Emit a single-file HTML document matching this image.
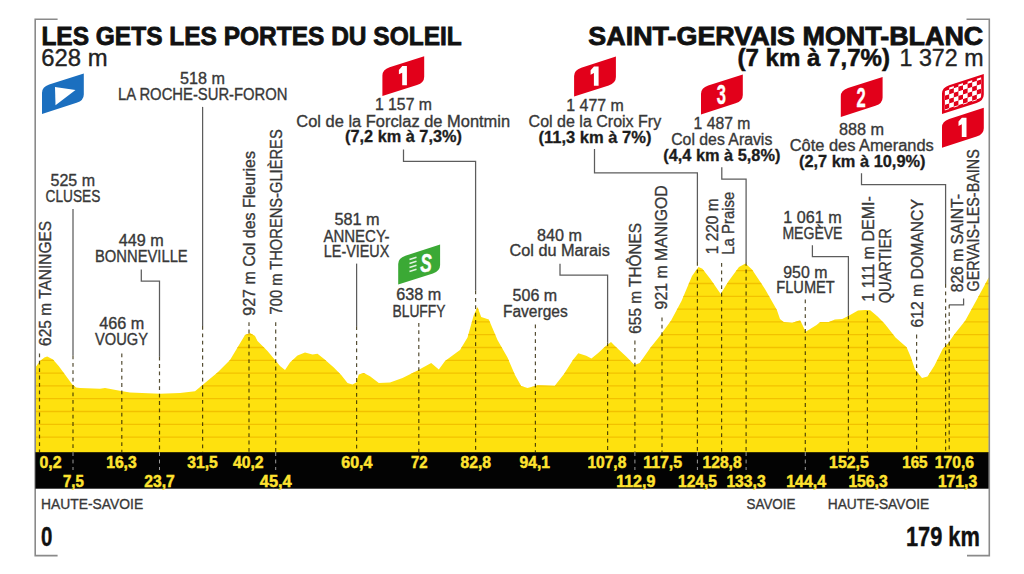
<!DOCTYPE html><html><head><meta charset="utf-8"><style>html,body{margin:0;padding:0;background:#fff;width:1024px;height:574px;overflow:hidden}svg{display:block}text{font-family:"Liberation Sans",sans-serif}</style></head><body>
<svg width="1024" height="574" viewBox="0 0 1024 574">
<defs><clipPath id="pc"><polygon points="35.7,367.0 40.0,361.0 44.4,357.5 47.2,356.5 53.0,359.4 58.7,366.0 66.4,376.6 72.1,384.3 76.0,387.6 80.0,388.1 100.0,388.8 105.0,388.0 122.5,391.2 130.0,392.5 160.0,393.8 180.0,393.0 195.0,391.2 202.5,385.0 217.5,372.5 230.0,360.0 245.0,335.0 250.0,333.0 255.0,336.0 257.5,341.0 267.5,351.0 280.0,366.0 285.0,370.0 290.0,362.5 297.5,355.5 305.0,352.5 312.5,354.5 317.5,353.8 323.8,358.8 333.8,367.5 341.2,375.0 347.5,383.0 352.5,384.5 356.2,382.5 358.8,374.5 363.8,373.0 370.0,376.2 378.8,383.0 390.0,382.5 402.5,378.0 417.5,370.5 431.2,363.0 438.8,369.5 445.0,361.0 460.0,350.0 467.5,337.5 473.8,315.0 477.5,307.0 481.2,317.0 488.8,319.5 497.5,340.0 507.5,357.5 515.0,375.0 521.2,386.0 527.5,388.0 537.8,385.3 554.8,385.8 564.0,374.0 573.1,359.7 578.3,353.2 586.2,355.8 591.4,358.4 597.9,353.2 605.8,346.1 611.0,342.0 616.2,347.2 626.7,357.1 634.5,365.0 639.7,362.9 650.2,348.0 660.6,334.9 671.1,320.5 681.5,301.0 692.0,276.1 698.5,267.0 702.4,268.8 710.2,278.7 720.7,294.0 728.5,281.3 739.0,267.0 745.5,263.5 752.0,269.6 765.1,289.2 776.9,310.1 780.0,319.0 783.7,322.0 792.2,322.7 800.1,320.2 802.0,323.9 805.6,331.8 809.3,329.4 816.6,325.1 820.2,322.1 828.8,322.1 834.9,319.6 842.2,319.0 848.3,316.0 858.0,310.5 865.4,309.9 870.2,310.2 877.6,316.6 884.9,323.9 895.5,337.6 906.6,347.3 910.8,357.1 915.0,369.6 922.0,378.0 927.5,376.6 934.5,365.5 942.8,348.7 948.4,343.1 954.0,334.8 965.2,320.8 976.3,300.5 984.7,285.0 988.8,277.3 988.8,453 35.7,453"/></clipPath></defs>
<polygon points="35.7,367.0 40.0,361.0 44.4,357.5 47.2,356.5 53.0,359.4 58.7,366.0 66.4,376.6 72.1,384.3 76.0,387.6 80.0,388.1 100.0,388.8 105.0,388.0 122.5,391.2 130.0,392.5 160.0,393.8 180.0,393.0 195.0,391.2 202.5,385.0 217.5,372.5 230.0,360.0 245.0,335.0 250.0,333.0 255.0,336.0 257.5,341.0 267.5,351.0 280.0,366.0 285.0,370.0 290.0,362.5 297.5,355.5 305.0,352.5 312.5,354.5 317.5,353.8 323.8,358.8 333.8,367.5 341.2,375.0 347.5,383.0 352.5,384.5 356.2,382.5 358.8,374.5 363.8,373.0 370.0,376.2 378.8,383.0 390.0,382.5 402.5,378.0 417.5,370.5 431.2,363.0 438.8,369.5 445.0,361.0 460.0,350.0 467.5,337.5 473.8,315.0 477.5,307.0 481.2,317.0 488.8,319.5 497.5,340.0 507.5,357.5 515.0,375.0 521.2,386.0 527.5,388.0 537.8,385.3 554.8,385.8 564.0,374.0 573.1,359.7 578.3,353.2 586.2,355.8 591.4,358.4 597.9,353.2 605.8,346.1 611.0,342.0 616.2,347.2 626.7,357.1 634.5,365.0 639.7,362.9 650.2,348.0 660.6,334.9 671.1,320.5 681.5,301.0 692.0,276.1 698.5,267.0 702.4,268.8 710.2,278.7 720.7,294.0 728.5,281.3 739.0,267.0 745.5,263.5 752.0,269.6 765.1,289.2 776.9,310.1 780.0,319.0 783.7,322.0 792.2,322.7 800.1,320.2 802.0,323.9 805.6,331.8 809.3,329.4 816.6,325.1 820.2,322.1 828.8,322.1 834.9,319.6 842.2,319.0 848.3,316.0 858.0,310.5 865.4,309.9 870.2,310.2 877.6,316.6 884.9,323.9 895.5,337.6 906.6,347.3 910.8,357.1 915.0,369.6 922.0,378.0 927.5,376.6 934.5,365.5 942.8,348.7 948.4,343.1 954.0,334.8 965.2,320.8 976.3,300.5 984.7,285.0 988.8,277.3 988.8,453 35.7,453" fill="#FEE10E"/>
<g clip-path="url(#pc)" stroke="#F2C100" stroke-width="1.3">
<line x1="30" x2="995" y1="437.10" y2="437.10"/>
<line x1="30" x2="995" y1="424.30" y2="424.30"/>
<line x1="30" x2="995" y1="411.50" y2="411.50"/>
<line x1="30" x2="995" y1="398.70" y2="398.70"/>
<line x1="30" x2="995" y1="385.90" y2="385.90"/>
<line x1="30" x2="995" y1="373.10" y2="373.10"/>
<line x1="30" x2="995" y1="360.30" y2="360.30"/>
<line x1="30" x2="995" y1="347.50" y2="347.50"/>
<line x1="30" x2="995" y1="334.70" y2="334.70"/>
<line x1="30" x2="995" y1="321.90" y2="321.90"/>
<line x1="30" x2="995" y1="309.10" y2="309.10"/>
<line x1="30" x2="995" y1="296.30" y2="296.30"/>
<line x1="30" x2="995" y1="283.50" y2="283.50"/>
<line x1="30" x2="995" y1="270.70" y2="270.70"/>
<line x1="30" x2="995" y1="257.90" y2="257.90"/>
</g>
<path d="M57.6,19.3 H35.2 V555.6 H57.6" fill="none" stroke="#8a8a8a" stroke-width="1.6"/>
<path d="M966.5,19.3 H989.3 V555.6 H967" fill="none" stroke="#8a8a8a" stroke-width="1.6"/>
<rect x="35.4" y="452.2" width="953.2" height="36.5" fill="#030303"/>
<line x1="39.5" x2="39.5" y1="353.4" y2="452.2" stroke="#2a2200" stroke-opacity="0.8" stroke-width="1.2" stroke-dasharray="3.8 3.6"/>
<path d="M73,209 V355.5" fill="none" stroke="#5c5c5c" stroke-width="1.25"/>
<line x1="73.0" x2="73.0" y1="355.5" y2="452.2" stroke="#2a2200" stroke-opacity="0.8" stroke-width="1.2" stroke-dasharray="3.8 3.6"/>
<line x1="73.0" x2="73.0" y1="452.2" y2="470.0" stroke="#9a9a9a" stroke-width="1" stroke-dasharray="3.8 3.6"/>
<line x1="121.8" x2="121.8" y1="353.5" y2="452.2" stroke="#2a2200" stroke-opacity="0.8" stroke-width="1.2" stroke-dasharray="3.8 3.6"/>
<path d="M141.3,269.6 V281.1 H159.5 V356.7" fill="none" stroke="#5c5c5c" stroke-width="1.25"/>
<line x1="159.5" x2="159.5" y1="356.7" y2="452.2" stroke="#2a2200" stroke-opacity="0.8" stroke-width="1.2" stroke-dasharray="3.8 3.6"/>
<line x1="159.5" x2="159.5" y1="452.2" y2="470.0" stroke="#9a9a9a" stroke-width="1" stroke-dasharray="3.8 3.6"/>
<path d="M202.6,106.9 V326" fill="none" stroke="#5c5c5c" stroke-width="1.25"/>
<line x1="202.6" x2="202.6" y1="326.0" y2="452.2" stroke="#2a2200" stroke-opacity="0.8" stroke-width="1.2" stroke-dasharray="3.8 3.6"/>
<line x1="249.0" x2="249.0" y1="322.2" y2="452.2" stroke="#2a2200" stroke-opacity="0.8" stroke-width="1.2" stroke-dasharray="3.8 3.6"/>
<line x1="275.7" x2="275.7" y1="322.2" y2="452.2" stroke="#2a2200" stroke-opacity="0.8" stroke-width="1.2" stroke-dasharray="3.8 3.6"/>
<line x1="275.7" x2="275.7" y1="452.2" y2="470.0" stroke="#9a9a9a" stroke-width="1" stroke-dasharray="3.8 3.6"/>
<path d="M356.6,263.6 V326.3" fill="none" stroke="#5c5c5c" stroke-width="1.25"/>
<line x1="356.6" x2="356.6" y1="326.3" y2="452.2" stroke="#2a2200" stroke-opacity="0.8" stroke-width="1.2" stroke-dasharray="3.8 3.6"/>
<line x1="418.8" x2="418.8" y1="322.9" y2="452.2" stroke="#2a2200" stroke-opacity="0.8" stroke-width="1.2" stroke-dasharray="3.8 3.6"/>
<path d="M403.5,149.4 V161.3 H475.6 V290.5" fill="none" stroke="#5c5c5c" stroke-width="1.25"/>
<line x1="475.6" x2="475.6" y1="290.5" y2="452.2" stroke="#2a2200" stroke-opacity="0.8" stroke-width="1.2" stroke-dasharray="3.8 3.6"/>
<line x1="535.4" x2="535.4" y1="324.5" y2="452.2" stroke="#2a2200" stroke-opacity="0.8" stroke-width="1.2" stroke-dasharray="3.8 3.6"/>
<path d="M560,263.7 V275.2 H607.6 V342.5" fill="none" stroke="#5c5c5c" stroke-width="1.25"/>
<line x1="607.6" x2="607.6" y1="342.5" y2="452.2" stroke="#2a2200" stroke-opacity="0.8" stroke-width="1.2" stroke-dasharray="3.8 3.6"/>
<line x1="634.9" x2="634.9" y1="340.6" y2="452.2" stroke="#2a2200" stroke-opacity="0.8" stroke-width="1.2" stroke-dasharray="3.8 3.6"/>
<line x1="634.9" x2="634.9" y1="452.2" y2="470.0" stroke="#9a9a9a" stroke-width="1" stroke-dasharray="3.8 3.6"/>
<line x1="662.0" x2="662.0" y1="317.4" y2="452.2" stroke="#2a2200" stroke-opacity="0.8" stroke-width="1.2" stroke-dasharray="3.8 3.6"/>
<path d="M594.5,149.1 V172.8 H697.4 V262" fill="none" stroke="#5c5c5c" stroke-width="1.25"/>
<line x1="697.4" x2="697.4" y1="262.0" y2="452.2" stroke="#2a2200" stroke-opacity="0.8" stroke-width="1.2" stroke-dasharray="3.8 3.6"/>
<line x1="697.4" x2="697.4" y1="452.2" y2="470.0" stroke="#9a9a9a" stroke-width="1" stroke-dasharray="3.8 3.6"/>
<line x1="721.6" x2="721.6" y1="263.0" y2="452.2" stroke="#2a2200" stroke-opacity="0.8" stroke-width="1.2" stroke-dasharray="3.8 3.6"/>
<path d="M721.8,167.2 V179 H746.1 V262" fill="none" stroke="#5c5c5c" stroke-width="1.25"/>
<line x1="746.1" x2="746.1" y1="262.0" y2="452.2" stroke="#2a2200" stroke-opacity="0.8" stroke-width="1.2" stroke-dasharray="3.8 3.6"/>
<line x1="746.1" x2="746.1" y1="452.2" y2="470.0" stroke="#9a9a9a" stroke-width="1" stroke-dasharray="3.8 3.6"/>
<line x1="805.3" x2="805.3" y1="299.5" y2="452.2" stroke="#2a2200" stroke-opacity="0.8" stroke-width="1.2" stroke-dasharray="3.8 3.6"/>
<line x1="805.3" x2="805.3" y1="452.2" y2="470.0" stroke="#9a9a9a" stroke-width="1" stroke-dasharray="3.8 3.6"/>
<path d="M812.4,245.3 V256.6 H848.4 V315.4" fill="none" stroke="#5c5c5c" stroke-width="1.25"/>
<line x1="848.4" x2="848.4" y1="315.4" y2="452.2" stroke="#2a2200" stroke-opacity="0.8" stroke-width="1.2" stroke-dasharray="3.8 3.6"/>
<line x1="867.4" x2="867.4" y1="311.0" y2="452.2" stroke="#2a2200" stroke-opacity="0.8" stroke-width="1.2" stroke-dasharray="3.8 3.6"/>
<line x1="916.6" x2="916.6" y1="334.6" y2="452.2" stroke="#2a2200" stroke-opacity="0.8" stroke-width="1.2" stroke-dasharray="3.8 3.6"/>
<path d="M861.5,173.3 V184.7 H945.6 V284" fill="none" stroke="#5c5c5c" stroke-width="1.25"/>
<line x1="945.6" x2="945.6" y1="284.0" y2="452.2" stroke="#2a2200" stroke-opacity="0.8" stroke-width="1.2" stroke-dasharray="3.8 3.6"/>
<path d="M963.6,298.6 V304.8 H949.2" fill="none" stroke="#5c5c5c" stroke-width="1.25"/>
<line x1="949.2" x2="949.2" y1="304.8" y2="452.2" stroke="#2a2200" stroke-opacity="0.8" stroke-width="1.2" stroke-dasharray="3.8 3.6"/>
<text x="41.4" y="44.7" font-size="25.5" font-weight="bold" fill="#111" stroke="#111" stroke-width="0.80" textLength="420.4" lengthAdjust="spacingAndGlyphs">LES GETS LES PORTES DU SOLEIL</text>
<text x="41.3" y="65.7" font-size="23" font-weight="normal" fill="#222" stroke="#222" stroke-width="0.35" textLength="66.3" lengthAdjust="spacingAndGlyphs">628 m</text>
<text x="588.3" y="44.6" font-size="25.5" font-weight="bold" fill="#111" stroke="#111" stroke-width="0.80" textLength="395.0" lengthAdjust="spacingAndGlyphs">SAINT-GERVAIS MONT-BLANC</text>
<text x="737.5" y="65.7" font-size="23" font-weight="bold" fill="#111" stroke="#111" stroke-width="0.50" textLength="152.5" lengthAdjust="spacingAndGlyphs">(7 km à 7,7%)</text>
<text x="899.5" y="65.7" font-size="23" font-weight="normal" fill="#222" stroke="#222" stroke-width="0.35" textLength="84.0" lengthAdjust="spacingAndGlyphs">1 372 m</text>
<text x="180.1" y="84.4" font-size="16" font-weight="normal" fill="#383838" stroke="#383838" stroke-width="0.35" textLength="44.9" lengthAdjust="spacingAndGlyphs">518 m</text>
<text x="118.0" y="100.0" font-size="16" font-weight="normal" fill="#383838" stroke="#383838" stroke-width="0.35" textLength="169.5" lengthAdjust="spacingAndGlyphs">LA ROCHE-SUR-FORON</text>
<text x="50.5" y="185.5" font-size="16" font-weight="normal" fill="#383838" stroke="#383838" stroke-width="0.35" textLength="44.5" lengthAdjust="spacingAndGlyphs">525 m</text>
<text x="45.6" y="201.6" font-size="16" font-weight="normal" fill="#383838" stroke="#383838" stroke-width="0.35" textLength="54.8" lengthAdjust="spacingAndGlyphs">CLUSES</text>
<text x="118.7" y="245.9" font-size="16" font-weight="normal" fill="#383838" stroke="#383838" stroke-width="0.35" textLength="44.9" lengthAdjust="spacingAndGlyphs">449 m</text>
<text x="95.0" y="261.6" font-size="16" font-weight="normal" fill="#383838" stroke="#383838" stroke-width="0.35" textLength="92.7" lengthAdjust="spacingAndGlyphs">BONNEVILLE</text>
<text x="99.2" y="329.3" font-size="16" font-weight="normal" fill="#383838" stroke="#383838" stroke-width="0.35" textLength="45.0" lengthAdjust="spacingAndGlyphs">466 m</text>
<text x="95.0" y="345.2" font-size="16" font-weight="normal" fill="#383838" stroke="#383838" stroke-width="0.35" textLength="53.0" lengthAdjust="spacingAndGlyphs">VOUGY</text>
<text x="374.9" y="110.2" font-size="16" font-weight="normal" fill="#383838" stroke="#383838" stroke-width="0.35" textLength="57.1" lengthAdjust="spacingAndGlyphs">1 157 m</text>
<text x="296.3" y="126.6" font-size="16" font-weight="normal" fill="#383838" stroke="#383838" stroke-width="0.35" textLength="213.8" lengthAdjust="spacingAndGlyphs">Col de la Forclaz de Montmin</text>
<text x="334.4" y="224.8" font-size="16" font-weight="normal" fill="#383838" stroke="#383838" stroke-width="0.35" textLength="45.2" lengthAdjust="spacingAndGlyphs">581 m</text>
<text x="323.4" y="241.6" font-size="16" font-weight="normal" fill="#383838" stroke="#383838" stroke-width="0.35" textLength="66.2" lengthAdjust="spacingAndGlyphs">ANNECY-</text>
<text x="323.8" y="257.2" font-size="16" font-weight="normal" fill="#383838" stroke="#383838" stroke-width="0.35" textLength="65.5" lengthAdjust="spacingAndGlyphs">LE-VIEUX</text>
<text x="396.3" y="299.9" font-size="16" font-weight="normal" fill="#383838" stroke="#383838" stroke-width="0.35" textLength="45.0" lengthAdjust="spacingAndGlyphs">638 m</text>
<text x="392.5" y="316.5" font-size="16" font-weight="normal" fill="#383838" stroke="#383838" stroke-width="0.35" textLength="52.9" lengthAdjust="spacingAndGlyphs">BLUFFY</text>
<text x="566.3" y="111.0" font-size="16" font-weight="normal" fill="#383838" stroke="#383838" stroke-width="0.35" textLength="57.5" lengthAdjust="spacingAndGlyphs">1 477 m</text>
<text x="528.6" y="126.7" font-size="16" font-weight="normal" fill="#383838" stroke="#383838" stroke-width="0.35" textLength="132.6" lengthAdjust="spacingAndGlyphs">Col de la Croix Fry</text>
<text x="537.0" y="240.5" font-size="16" font-weight="normal" fill="#383838" stroke="#383838" stroke-width="0.35" textLength="45.0" lengthAdjust="spacingAndGlyphs">840 m</text>
<text x="509.6" y="256.4" font-size="16" font-weight="normal" fill="#383838" stroke="#383838" stroke-width="0.35" textLength="100.2" lengthAdjust="spacingAndGlyphs">Col du Marais</text>
<text x="512.6" y="300.5" font-size="16" font-weight="normal" fill="#383838" stroke="#383838" stroke-width="0.35" textLength="44.5" lengthAdjust="spacingAndGlyphs">506 m</text>
<text x="503.0" y="316.8" font-size="16" font-weight="normal" fill="#383838" stroke="#383838" stroke-width="0.35" textLength="64.7" lengthAdjust="spacingAndGlyphs">Faverges</text>
<text x="693.6" y="128.5" font-size="16" font-weight="normal" fill="#383838" stroke="#383838" stroke-width="0.35" textLength="56.7" lengthAdjust="spacingAndGlyphs">1 487 m</text>
<text x="671.2" y="145.0" font-size="16" font-weight="normal" fill="#383838" stroke="#383838" stroke-width="0.35" textLength="101.1" lengthAdjust="spacingAndGlyphs">Col des Aravis</text>
<text x="838.9" y="134.6" font-size="16" font-weight="normal" fill="#383838" stroke="#383838" stroke-width="0.35" textLength="45.2" lengthAdjust="spacingAndGlyphs">888 m</text>
<text x="789.7" y="150.8" font-size="16" font-weight="normal" fill="#383838" stroke="#383838" stroke-width="0.35" textLength="144.1" lengthAdjust="spacingAndGlyphs">Côte des Amerands</text>
<text x="783.3" y="223.2" font-size="16" font-weight="normal" fill="#383838" stroke="#383838" stroke-width="0.35" textLength="58.4" lengthAdjust="spacingAndGlyphs">1 061 m</text>
<text x="782.4" y="239.2" font-size="16" font-weight="normal" fill="#383838" stroke="#383838" stroke-width="0.35" textLength="60.1" lengthAdjust="spacingAndGlyphs">MEGÈVE</text>
<text x="783.3" y="277.5" font-size="16" font-weight="normal" fill="#383838" stroke="#383838" stroke-width="0.35" textLength="44.1" lengthAdjust="spacingAndGlyphs">950 m</text>
<text x="776.3" y="292.9" font-size="16" font-weight="normal" fill="#383838" stroke="#383838" stroke-width="0.35" textLength="58.4" lengthAdjust="spacingAndGlyphs">FLUMET</text>
<text x="41.0" y="508.7" font-size="15" font-weight="normal" fill="#383838" stroke="#383838" stroke-width="0.35" textLength="102.2" lengthAdjust="spacingAndGlyphs">HAUTE-SAVOIE</text>
<text x="746.6" y="508.5" font-size="15" font-weight="normal" fill="#383838" stroke="#383838" stroke-width="0.35" textLength="48.8" lengthAdjust="spacingAndGlyphs">SAVOIE</text>
<text x="827.7" y="508.5" font-size="15" font-weight="normal" fill="#383838" stroke="#383838" stroke-width="0.35" textLength="101.5" lengthAdjust="spacingAndGlyphs">HAUTE-SAVOIE</text>
<text x="345.0" y="142.4" font-size="16" font-weight="bold" fill="#1c1c1c" stroke="#1c1c1c" stroke-width="0.30" textLength="117.0" lengthAdjust="spacingAndGlyphs">(7,2 km à 7,3%)</text>
<text x="538.5" y="143.1" font-size="16" font-weight="bold" fill="#1c1c1c" stroke="#1c1c1c" stroke-width="0.30" textLength="113.0" lengthAdjust="spacingAndGlyphs">(11,3 km à 7%)</text>
<text x="663.2" y="160.8" font-size="16" font-weight="bold" fill="#1c1c1c" stroke="#1c1c1c" stroke-width="0.30" textLength="117.2" lengthAdjust="spacingAndGlyphs">(4,4 km à 5,8%)</text>
<text x="799.0" y="166.6" font-size="16" font-weight="bold" fill="#1c1c1c" stroke="#1c1c1c" stroke-width="0.30" textLength="126.5" lengthAdjust="spacingAndGlyphs">(2,7 km à 10,9%)</text>
<text transform="translate(50.8,345.9) rotate(-90)" x="0" y="0" font-size="17" font-weight="normal" fill="#383838" stroke="#383838" stroke-width="0.35" textLength="125.0" lengthAdjust="spacingAndGlyphs">625 m TANINGES</text>
<text transform="translate(255.3,315.7) rotate(-90)" x="0" y="0" font-size="17" font-weight="normal" fill="#383838" stroke="#383838" stroke-width="0.35" textLength="164.7" lengthAdjust="spacingAndGlyphs">927 m Col des Fleuries</text>
<text transform="translate(282.4,314.4) rotate(-90)" x="0" y="0" font-size="17" font-weight="normal" fill="#383838" stroke="#383838" stroke-width="0.35" textLength="185.1" lengthAdjust="spacingAndGlyphs">700 m THORENS-GLIÈRES</text>
<text transform="translate(641.0,333.7) rotate(-90)" x="0" y="0" font-size="17" font-weight="normal" fill="#383838" stroke="#383838" stroke-width="0.35" textLength="110.8" lengthAdjust="spacingAndGlyphs">655 m THÔNES</text>
<text transform="translate(667.2,309.4) rotate(-90)" x="0" y="0" font-size="17" font-weight="normal" fill="#383838" stroke="#383838" stroke-width="0.35" textLength="124.2" lengthAdjust="spacingAndGlyphs">921 m MANIGOD</text>
<text transform="translate(718.0,254.2) rotate(-90)" x="0" y="0" font-size="17" font-weight="normal" fill="#383838" stroke="#383838" stroke-width="0.35" textLength="55.7" lengthAdjust="spacingAndGlyphs">1 220 m</text>
<text transform="translate(733.8,254.7) rotate(-90)" x="0" y="0" font-size="17" font-weight="normal" fill="#383838" stroke="#383838" stroke-width="0.35" textLength="62.9" lengthAdjust="spacingAndGlyphs">La Praise</text>
<text transform="translate(874.0,301.7) rotate(-90)" x="0" y="0" font-size="17" font-weight="normal" fill="#383838" stroke="#383838" stroke-width="0.35" textLength="105.6" lengthAdjust="spacingAndGlyphs">1 111 m DEMI-</text>
<text transform="translate(891.0,303.3) rotate(-90)" x="0" y="0" font-size="17" font-weight="normal" fill="#383838" stroke="#383838" stroke-width="0.35" textLength="75.0" lengthAdjust="spacingAndGlyphs">QUARTIER</text>
<text transform="translate(922.7,327.6) rotate(-90)" x="0" y="0" font-size="17" font-weight="normal" fill="#383838" stroke="#383838" stroke-width="0.35" textLength="128.6" lengthAdjust="spacingAndGlyphs">612 m DOMANCY</text>
<text transform="translate(962.6,292.3) rotate(-90)" x="0" y="0" font-size="17" font-weight="normal" fill="#383838" stroke="#383838" stroke-width="0.35" textLength="98.3" lengthAdjust="spacingAndGlyphs">826 m SAINT-</text>
<text transform="translate(978.6,291.5) rotate(-90)" x="0" y="0" font-size="17" font-weight="normal" fill="#383838" stroke="#383838" stroke-width="0.35" textLength="142.2" lengthAdjust="spacingAndGlyphs">GERVAIS-LES-BAINS</text>
<text x="39.5" y="468.3" font-size="17" font-weight="bold" fill="#FFE330" stroke="#FFE330" stroke-width="0.50" textLength="22.1" lengthAdjust="spacingAndGlyphs">0,2</text>
<text x="63.0" y="486.6" font-size="17" font-weight="bold" fill="#FFE330" stroke="#FFE330" stroke-width="0.50" textLength="20.8" lengthAdjust="spacingAndGlyphs">7,5</text>
<text x="106.2" y="468.3" font-size="17" font-weight="bold" fill="#FFE330" stroke="#FFE330" stroke-width="0.50" textLength="30.5" lengthAdjust="spacingAndGlyphs">16,3</text>
<text x="144.3" y="486.6" font-size="17" font-weight="bold" fill="#FFE330" stroke="#FFE330" stroke-width="0.50" textLength="30.4" lengthAdjust="spacingAndGlyphs">23,7</text>
<text x="187.3" y="468.3" font-size="17" font-weight="bold" fill="#FFE330" stroke="#FFE330" stroke-width="0.50" textLength="30.5" lengthAdjust="spacingAndGlyphs">31,5</text>
<text x="233.0" y="468.3" font-size="17" font-weight="bold" fill="#FFE330" stroke="#FFE330" stroke-width="0.50" textLength="30.6" lengthAdjust="spacingAndGlyphs">40,2</text>
<text x="259.8" y="486.6" font-size="17" font-weight="bold" fill="#FFE330" stroke="#FFE330" stroke-width="0.50" textLength="31.9" lengthAdjust="spacingAndGlyphs">45,4</text>
<text x="341.3" y="468.3" font-size="17" font-weight="bold" fill="#FFE330" stroke="#FFE330" stroke-width="0.50" textLength="31.2" lengthAdjust="spacingAndGlyphs">60,4</text>
<text x="411.0" y="468.3" font-size="17" font-weight="bold" fill="#FFE330" stroke="#FFE330" stroke-width="0.50" textLength="16.6" lengthAdjust="spacingAndGlyphs">72</text>
<text x="460.6" y="468.3" font-size="17" font-weight="bold" fill="#FFE330" stroke="#FFE330" stroke-width="0.50" textLength="30.5" lengthAdjust="spacingAndGlyphs">82,8</text>
<text x="519.6" y="468.3" font-size="17" font-weight="bold" fill="#FFE330" stroke="#FFE330" stroke-width="0.50" textLength="30.5" lengthAdjust="spacingAndGlyphs">94,1</text>
<text x="587.4" y="468.3" font-size="17" font-weight="bold" fill="#FFE330" stroke="#FFE330" stroke-width="0.50" textLength="38.9" lengthAdjust="spacingAndGlyphs">107,8</text>
<text x="616.2" y="486.6" font-size="17" font-weight="bold" fill="#FFE330" stroke="#FFE330" stroke-width="0.50" textLength="39.1" lengthAdjust="spacingAndGlyphs">112,9</text>
<text x="643.2" y="468.3" font-size="17" font-weight="bold" fill="#FFE330" stroke="#FFE330" stroke-width="0.50" textLength="38.9" lengthAdjust="spacingAndGlyphs">117,5</text>
<text x="678.1" y="486.6" font-size="17" font-weight="bold" fill="#FFE330" stroke="#FFE330" stroke-width="0.50" textLength="38.9" lengthAdjust="spacingAndGlyphs">124,5</text>
<text x="702.5" y="468.3" font-size="17" font-weight="bold" fill="#FFE330" stroke="#FFE330" stroke-width="0.50" textLength="39.1" lengthAdjust="spacingAndGlyphs">128,8</text>
<text x="726.4" y="486.6" font-size="17" font-weight="bold" fill="#FFE330" stroke="#FFE330" stroke-width="0.50" textLength="39.3" lengthAdjust="spacingAndGlyphs">133,3</text>
<text x="786.2" y="486.6" font-size="17" font-weight="bold" fill="#FFE330" stroke="#FFE330" stroke-width="0.50" textLength="39.8" lengthAdjust="spacingAndGlyphs">144,4</text>
<text x="829.1" y="468.3" font-size="17" font-weight="bold" fill="#FFE330" stroke="#FFE330" stroke-width="0.50" textLength="39.6" lengthAdjust="spacingAndGlyphs">152,5</text>
<text x="848.4" y="486.6" font-size="17" font-weight="bold" fill="#FFE330" stroke="#FFE330" stroke-width="0.50" textLength="39.3" lengthAdjust="spacingAndGlyphs">156,3</text>
<text x="902.2" y="468.3" font-size="17" font-weight="bold" fill="#FFE330" stroke="#FFE330" stroke-width="0.50" textLength="25.4" lengthAdjust="spacingAndGlyphs">165</text>
<text x="934.7" y="468.3" font-size="17" font-weight="bold" fill="#FFE330" stroke="#FFE330" stroke-width="0.50" textLength="39.4" lengthAdjust="spacingAndGlyphs">170,6</text>
<text x="937.9" y="486.6" font-size="17" font-weight="bold" fill="#FFE330" stroke="#FFE330" stroke-width="0.50" textLength="39.3" lengthAdjust="spacingAndGlyphs">171,3</text>
<text x="41.0" y="545.8" font-size="27" font-weight="bold" fill="#111" stroke="#111" stroke-width="0.40" textLength="11.4" lengthAdjust="spacingAndGlyphs">0</text>
<text x="905.9" y="545.9" font-size="27" font-weight="bold" fill="#111" stroke="#111" stroke-width="0.40" textLength="74.0" lengthAdjust="spacingAndGlyphs">179 km</text>
<path d="M42.0,113.9 V92.9 Q42.0,86.9 49.2,84.6 L83.8,73.5 V94.5 Q83.8,100.5 76.6,102.8 Z" fill="#1B6FBF"/>
<path d="M55,87 L75.5,90 L55.5,105.3 Z" fill="#fff"/>
<path d="M382.4,96.1 V75.6 Q382.4,69.6 389.6,67.3 L424.2,56.2 V76.7 Q424.2,82.7 417.0,85.0 Z" fill="#E2001A"/>
<path d="M402.3,66.1 h4.6 v19.2 h-4.7 v-12.6 l-3.3,1.6 v-4.4 Z" fill="#fff"/>
<path d="M574.1,96.5 V76.0 Q574.1,70.0 581.3,67.7 L615.9,56.6 V77.1 Q615.9,83.1 608.7,85.4 Z" fill="#E2001A"/>
<path d="M594.0,66.5 h4.6 v19.2 h-4.7 v-12.6 l-3.3,1.6 v-4.4 Z" fill="#fff"/>
<path d="M701.0,114.4 V93.9 Q701.0,87.9 708.2,85.6 L742.8,74.5 V95.0 Q742.8,101.0 735.6,103.3 Z" fill="#E2001A"/>
<text x="716.8" y="104.1" font-size="27" font-weight="bold" fill="#fff" stroke="#fff" stroke-width="0.4" textLength="9.2" lengthAdjust="spacingAndGlyphs">3</text>
<path d="M840.8,116.9 V96.4 Q840.8,90.4 848.0,88.1 L882.6,77.0 V97.5 Q882.6,103.5 875.4,105.8 Z" fill="#E2001A"/>
<text x="856.6" y="106.6" font-size="27" font-weight="bold" fill="#fff" stroke="#fff" stroke-width="0.4" textLength="9.2" lengthAdjust="spacingAndGlyphs">2</text>
<path d="M942.0,147.7 V127.2 Q942.0,121.2 949.2,118.9 L983.8,107.8 V128.3 Q983.8,134.3 976.6,136.6 Z" fill="#E2001A"/>
<path d="M961.9,117.7 h4.6 v19.2 h-4.7 v-12.6 l-3.3,1.6 v-4.4 Z" fill="#fff"/>
<path d="M942.0,114.0 V93.5 Q942.0,87.5 949.2,85.2 L983.8,74.1 V94.6 Q983.8,100.6 976.6,102.9 Z" fill="#E2001A"/>
<defs><clipPath id="ck"><path d="M944.6,110.5 V93.0 Q944.6,89.0 949.4,87.4 L981.4,77.2 V94.7 Q981.4,98.7 976.6,100.2 Z"/></clipPath>
<pattern id="cp" x="944.6" y="89" width="9.2" height="9.2" patternUnits="userSpaceOnUse" patternTransform="skewY(-17.7)"><rect width="9.2" height="9.2" fill="#fff"/><rect x="4.6" width="4.6" height="4.6" fill="#E2001A"/><rect y="4.6" width="4.6" height="4.6" fill="#E2001A"/></pattern></defs>
<path d="M944.6,110.5 V93.0 Q944.6,89.0 949.4,87.4 L981.4,77.2 V94.7 Q981.4,98.7 976.6,100.2 Z" fill="url(#cp)"/>
<path d="M398.2,284.5 V264.0 Q398.2,258.0 405.4,255.7 L440.1,244.6 V265.1 Q440.1,271.1 432.9,273.4 Z" fill="#3BA935"/>
<text x="420.3" y="272.3" font-size="26" font-weight="bold" font-style="italic" fill="#fff" stroke="#fff" stroke-width="0.5" textLength="11.5" lengthAdjust="spacingAndGlyphs">S</text>
<line x1="409.5" x2="416.5" y1="259.5" y2="257.3" stroke="#fff" stroke-width="1.6" opacity="0.85"/>
<line x1="409.5" x2="416.5" y1="263.5" y2="261.3" stroke="#fff" stroke-width="1.6" opacity="0.85"/>
<line x1="409.5" x2="416.5" y1="267.5" y2="265.3" stroke="#fff" stroke-width="1.6" opacity="0.85"/>
<line x1="409.5" x2="416.5" y1="271.5" y2="269.3" stroke="#fff" stroke-width="1.6" opacity="0.85"/>
</svg></body></html>
